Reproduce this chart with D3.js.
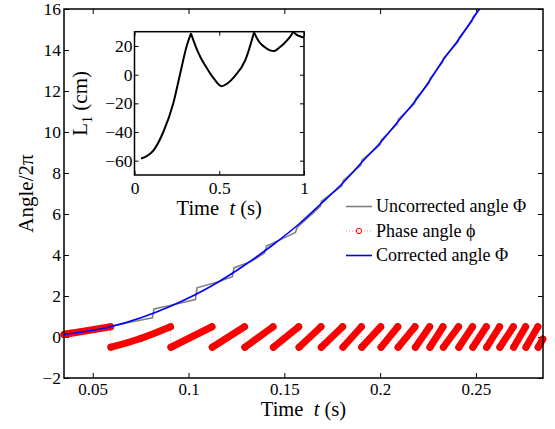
<!DOCTYPE html>
<html>
<head>
<meta charset="utf-8">
<script src="https://cdn.jsdelivr.net/npm/d3@7"></script>
<style>
  body { margin: 0; background: #fff; }
  text { font-family: "Liberation Serif", "Times New Roman", serif; fill: #000; }
</style>
</head>
<body>
<div id="chart"></div>
<script>
// corrected angle (Phi/2pi), read where the blue curve crosses n + 0.5
const correctedT = [0.035, 0.0593, 0.0906, 0.1122, 0.1292, 0.1441, 0.1575, 0.1691, 0.1804, 0.1902, 0.2003,
                    0.2092, 0.2182, 0.2258, 0.2328, 0.2409, 0.2482, 0.2554, 0.2623, 0.2695, 0.2759, 0.2823, 0.2849]
const correctedV = [0.12, 0.5, 1.5, 2.5, 3.5, 4.5, 5.5, 6.5, 7.5, 8.5, 9.5,
                    10.5, 11.5, 12.5, 13.5, 14.5, 15.5, 16.5, 17.5, 18.5, 19.5, 20.5, 20.9]

// uncorrected angle (grey, with its small steps)
const uncorrT = [0.035, 0.0433, 0.059, 0.0694, 0.0812, 0.0820, 0.0903, 0.1036, 0.1044, 0.1147, 0.1229, 0.1237,
                 0.1330, 0.1396, 0.1407, 0.1480, 0.1558, 0.1566, 0.1688, 0.1694, 0.1801, 0.1807, 0.1899, 0.1905,
                 0.2000, 0.2006, 0.2089, 0.2095, 0.2179, 0.2185, 0.2255, 0.2261, 0.2325, 0.2331, 0.2406, 0.2412,
                 0.2479, 0.2485, 0.2551, 0.2557]
const uncorrV = [0.28, 0.37, 0.52, 0.72, 0.94, 1.37, 1.54, 1.83, 2.40, 2.67, 2.94, 3.37,
                 3.70, 4.10, 4.43, 4.75, 5.10, 5.33, 6.38, 6.62, 7.38, 7.62, 8.38, 8.62,
                 9.38, 9.62, 10.38, 10.62, 11.38, 11.62, 12.38, 12.62, 13.40, 13.60, 14.40, 14.60,
                 15.40, 15.60, 16.40, 16.60]

// phase angle (red markers), segment ends
const phaseT = [0.035, 0.0593, 0.0595, 0.075, 0.0906, 0.0908, 0.1122, 0.1124, 0.1292, 0.1294, 0.1441, 0.1443, 0.1575,
                0.1577, 0.1691, 0.1693, 0.1804, 0.1806, 0.1902, 0.1904, 0.2003, 0.2005, 0.2092, 0.2094, 0.2182,
                0.2184, 0.2258, 0.2260, 0.2328, 0.2330, 0.2409, 0.2411, 0.2482, 0.2484, 0.2554, 0.2556, 0.2623,
                0.2625, 0.2695, 0.2697, 0.2759, 0.2761, 0.2823, 0.2825, 0.2849]
const phaseV = [0.12, 0.5, -0.5, -0.07, 0.5, -0.5, 0.5, -0.5, 0.5, -0.5, 0.5, -0.5, 0.5,
                -0.5, 0.5, -0.5, 0.5, -0.5, 0.5, -0.5, 0.5, -0.5, 0.5, -0.5, 0.5,
                -0.5, 0.5, -0.5, 0.5, -0.5, 0.5, -0.5, 0.5, -0.5, 0.5, -0.5, 0.5,
                -0.5, 0.5, -0.5, 0.5, -0.5, 0.5, -0.5, -0.1]

// inset: L1 (cm) vs time
const insetT = [0.039, 0.07, 0.111, 0.17, 0.229, 0.268, 0.308, 0.333,
                0.36, 0.39, 0.426, 0.47, 0.513, 0.55, 0.588, 0.655, 0.705,
                0.735, 0.765, 0.8, 0.824, 0.855, 0.884, 0.915, 0.937, 0.955, 0.972, 1.0]
const insetL = [-58.5, -57, -53, -40, -20, 0, 20, 28.8,
                20, 12, 4.7, -3, -8, -6, -1.5, 10.5, 29.5,
                23, 19.5, 17, 16.5, 19, 22, 26, 30, 28, 27, 26]

const xTicks = [0.05, 0.1, 0.15, 0.2, 0.25]
const xTickLabels = ["0.05", "0.1", "0.15", "0.2", "0.25"]
const yTicks = [-2, 0, 2, 4, 6, 8, 10, 12, 14, 16]
const insetXTicks = [0, 0.5, 1]
const insetXLabels = ["0", "0.5", "1"]
const insetYTicks = [-60, -40, -20, 0, 20]
const legendLabels = ["Uncorrected angle \u03A6", "Phase angle \u03D5", "Corrected angle \u03A6"]

const width = 555
const height = 429
const m = {left: 64, right: 543, top: 9, bottom: 378}

const svg = d3.select("#chart").append("svg")
    .attr("width", width)
    .attr("height", height)

svg.append("rect").attr("width", width).attr("height", height).attr("fill", "#fff")

const x = d3.scaleLinear().domain([0.035, 0.285]).range([m.left, m.right])
const y = d3.scaleLinear().domain([-2, 16]).range([m.bottom, m.top])

svg.append("clipPath").attr("id", "clipMain")
    .append("rect")
    .attr("x", m.left).attr("y", m.top)
    .attr("width", m.right - m.left).attr("height", m.bottom - m.top)

function styleAxis(g, size){
    g.select(".domain").remove()
    g.selectAll(".tick line").attr("stroke", "#000").attr("stroke-width", 1)
    g.attr("font-size", size)
    g.selectAll("text").attr("fill", "#000")
}

// axes with inward ticks on all four sides
svg.append("g")
    .attr("transform", "translate(0," + m.bottom + ")")
    .call(d3.axisBottom(x).tickValues(xTicks).tickFormat((d, i) => xTickLabels[i])
        .tickSizeInner(-5).tickSizeOuter(0).tickPadding(5))
    .call(g => styleAxis(g, 17))
svg.append("g")
    .attr("transform", "translate(0," + m.top + ")")
    .call(d3.axisTop(x).tickValues(xTicks).tickFormat("").tickSizeInner(-5).tickSizeOuter(0))
    .call(g => styleAxis(g, 17))
svg.append("g")
    .attr("transform", "translate(" + m.left + ",0)")
    .call(d3.axisLeft(y).tickValues(yTicks).tickFormat(d3.format("d"))
        .tickSizeInner(-5).tickSizeOuter(0).tickPadding(3))
    .call(g => styleAxis(g, 17.5))
svg.append("g")
    .attr("transform", "translate(" + m.right + ",0)")
    .call(d3.axisRight(y).tickValues(yTicks).tickFormat("").tickSizeInner(-5).tickSizeOuter(0))
    .call(g => styleAxis(g, 17))

// data
const plot = svg.append("g")

const line = d3.line().x(d => x(d[0])).y(d => y(d[1]))
const smooth = d3.line().x(d => x(d[0])).y(d => y(d[1])).curve(d3.curveMonotoneX)

const uncorr = uncorrT.map((t, i) => [t, uncorrV[i]])
plot.append("path")
    .attr("clip-path", "url(#clipMain)")
    .attr("d", line(uncorr))
    .attr("fill", "none")
    .attr("stroke", "#808080")
    .attr("stroke-width", 1.6)

const phase = phaseT.map((t, i) => [t, phaseV[i]])
// split into runs at each wrap
var segs = [[phase[0]]]
for (var i = 1; i < phase.length; i++){
    if (phase[i][1] < phase[i-1][1]) segs.push([])
    segs[segs.length - 1].push(phase[i])
}
plot.append("path")
    .attr("d", line(phase))
    .attr("fill", "none")
    .attr("stroke", "#ff0000")
    .attr("stroke-opacity", 0.45)
    .attr("stroke-width", 0.8)
    .attr("stroke-dasharray", "1,2")
plot.selectAll(".band")
    .data(segs)
    .enter()
    .append("path")
    .attr("class", "band")
    .attr("d", d => smooth(d))
    .attr("fill", "none")
    .attr("stroke", "#ff0000")
    .attr("stroke-width", 7)
    .attr("stroke-linecap", "round")
plot.selectAll(".mk")
    .data(phase)
    .enter()
    .append("circle")
    .attr("class", "mk")
    .attr("cx", d => x(d[0]))
    .attr("cy", d => y(d[1]))
    .attr("r", 3.2)
    .attr("fill", "none")
    .attr("stroke", "#e00000")
    .attr("stroke-width", 0.8)

const corrected = correctedT.map((t, i) => [t, correctedV[i]])
plot.append("path")
    .attr("clip-path", "url(#clipMain)")
    .attr("d", smooth(corrected))
    .attr("fill", "none")
    .attr("stroke", "#0000ff")
    .attr("stroke-width", 1.6)

svg.append("rect")
    .attr("x", m.left).attr("y", m.top)
    .attr("width", m.right - m.left).attr("height", m.bottom - m.top)
    .attr("fill", "none").attr("stroke", "#000").attr("stroke-width", 1.5)

// axis labels
const xl = svg.append("text")
    .attr("x", (m.left + m.right) / 2)
    .attr("y", 416)
    .attr("text-anchor", "middle")
    .attr("font-size", 20.5)
    .attr("xml:space", "preserve")
xl.append("tspan").text("Time  ")
xl.append("tspan").attr("font-style", "italic").text("t")
xl.append("tspan").text(" (s)")

svg.append("text")
    .attr("transform", "translate(33," + (m.top + m.bottom) / 2 + ") rotate(-90)")
    .attr("text-anchor", "middle")
    .attr("font-size", 21)
    .text("Angle/2\u03C0")

// legend (no box)
const legendY = [206.5, 231, 255.5]
const lg = svg.append("g")
const legendStyle = [
    {stroke: "#808080", dash: null, marker: false},
    {stroke: "#ff0000", dash: "1,2", marker: true},
    {stroke: "#0000ff", dash: null, marker: false}
]
legendLabels.forEach(function(lab, i){
    const s = legendStyle[i]
    const ln = lg.append("line")
        .attr("x1", 346).attr("x2", 372)
        .attr("y1", legendY[i]).attr("y2", legendY[i])
        .attr("stroke", s.stroke)
        .attr("stroke-width", s.dash ? 0.8 : 1.6)
    if (s.dash) ln.attr("stroke-dasharray", s.dash).attr("stroke-opacity", 0.6)
    if (s.marker){
        lg.append("circle").attr("cx", 359).attr("cy", legendY[i]).attr("r", 2.7)
            .attr("fill", "none").attr("stroke", "#ff0000").attr("stroke-width", 1)
    }
    lg.append("text")
        .attr("x", 376).attr("y", legendY[i])
        .attr("dy", "0.33em")
        .attr("font-size", 18)
        .text(lab)
})

// inset
const im = {left: 134.5, right: 304, top: 31.7, bottom: 175}
const ix = d3.scaleLinear().domain([0, 1]).range([im.left, im.right])
const iy = d3.scaleLinear().domain([-70, 30]).range([im.bottom, im.top])

const inset = svg.append("g")
inset.append("rect")
    .attr("x", im.left).attr("y", im.top)
    .attr("width", im.right - im.left).attr("height", im.bottom - im.top)
    .attr("fill", "#fff")

svg.append("clipPath").attr("id", "clipInset")
    .append("rect")
    .attr("x", im.left).attr("y", im.top)
    .attr("width", im.right - im.left).attr("height", im.bottom - im.top)

inset.append("g")
    .attr("transform", "translate(0," + im.bottom + ")")
    .call(d3.axisBottom(ix).tickValues(insetXTicks).tickFormat((d, i) => insetXLabels[i])
        .tickSizeInner(-4).tickSizeOuter(0).tickPadding(7))
    .call(g => styleAxis(g, 17.5))
inset.append("g")
    .attr("transform", "translate(0," + im.top + ")")
    .call(d3.axisTop(ix).tickValues(insetXTicks).tickFormat("").tickSizeInner(-4).tickSizeOuter(0))
    .call(g => styleAxis(g, 17.5))
inset.append("g")
    .attr("transform", "translate(" + im.left + ",0)")
    .call(d3.axisLeft(iy).tickValues(insetYTicks).tickFormat(d3.format("d"))
        .tickSizeInner(-4).tickSizeOuter(0).tickPadding(2))
    .call(g => styleAxis(g, 17.5))
inset.append("g")
    .attr("transform", "translate(" + im.right + ",0)")
    .call(d3.axisRight(iy).tickValues(insetYTicks).tickFormat("").tickSizeInner(-4).tickSizeOuter(0))
    .call(g => styleAxis(g, 17.5))

// split the L1 trace at its sharp peaks so each piece stays smooth
const insetPts = insetT.map((t, i) => [t, insetL[i]])
var pieces = [[insetPts[0]]]
for (var k = 1; k < insetPts.length; k++){
    pieces[pieces.length - 1].push(insetPts[k])
    const prev = insetPts[k-1][1], next = insetPts[k+1] ? insetPts[k+1][1] : -Infinity
    if (insetPts[k][1] > prev && insetPts[k][1] > next && k < insetPts.length - 1) pieces.push([insetPts[k]])
}
const insetLine = d3.line().x(d => ix(d[0])).y(d => iy(d[1])).curve(d3.curveMonotoneX)
inset.append("g")
    .attr("clip-path", "url(#clipInset)")
    .selectAll("path")
    .data(pieces)
    .enter()
    .append("path")
    .attr("d", d => insetLine(d))
    .attr("fill", "none")
    .attr("stroke", "#000")
    .attr("stroke-width", 2)
    .attr("stroke-linejoin", "round")

inset.append("rect")
    .attr("x", im.left).attr("y", im.top)
    .attr("width", im.right - im.left).attr("height", im.bottom - im.top)
    .attr("fill", "none").attr("stroke", "#000").attr("stroke-width", 1.5)

const ixl = inset.append("text")
    .attr("x", (im.left + im.right) / 2)
    .attr("y", 215)
    .attr("text-anchor", "middle")
    .attr("font-size", 20.5)
    .attr("xml:space", "preserve")
ixl.append("tspan").text("Time  ")
ixl.append("tspan").attr("font-style", "italic").text("t")
ixl.append("tspan").text(" (s)")

const iyl = inset.append("text")
    .attr("transform", "translate(87," + (im.top + im.bottom) / 2 + ") rotate(-90)")
    .attr("text-anchor", "middle")
    .attr("font-size", 21)
iyl.append("tspan").text("L")
iyl.append("tspan").attr("font-size", 14).attr("dy", 5).text("1")
iyl.append("tspan").attr("dy", -5).text(" (cm)")
</script>
</body>
</html>
